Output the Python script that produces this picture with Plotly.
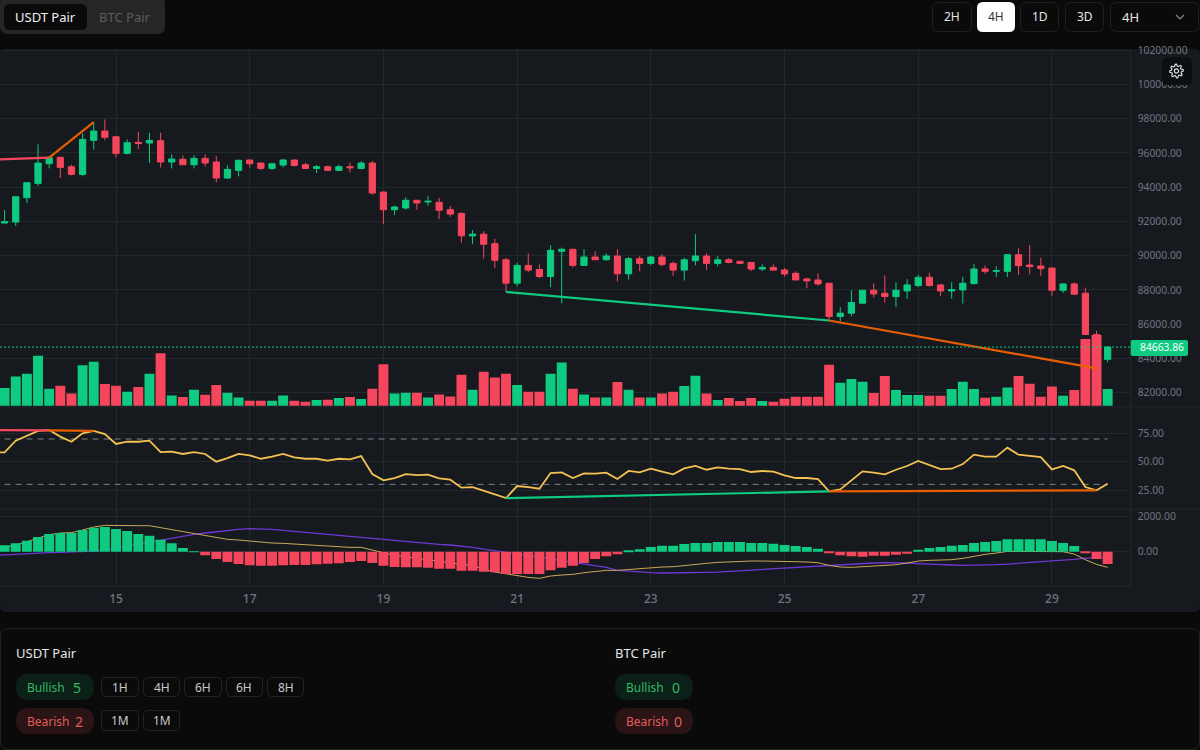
import math
import pandas as pd
import plotly.graph_objects as go

# ---- data: 4H bars, first bar is off-screen at the left edge ----
opens = [91900,91906,91964,93386,94223,95371,95742,95196,94748,96734,97280,
 96949,95975,96618,96579,96715,95469,95625,95313,95683,95469,94534,94982,95586,95410,95099,95294,95586,95313,95099,95196,94982,95196,95099,95410,93717,92685,
 92785,93236,93138,93118,92687,92471,91158,91256,90707,89766,88394,89433,89198,88786,90256,90374,89433,89923,89766,89982,88943,89825,89551,89923,89551,89159,89707,89982,89551,89766,89668,89610,89218,89316,
 89166,88972,88642,88584,88390,86450,86644,87226,87982,87808,87614,87944,88254,88739,88293,87944,88002,88370,89224,89088,89088,90058,89457,89399,89282,87982,88351,87808,85400,83947]
highs = [91990,92665,93444,94262,96501,95722,95780,95313,97124,97805,97961,
 97007,96793,97241,97182,97182,95917,95858,95858,95917,95800,95274,95625,95625,95430,95400,95664,95625,95430,95294,95255,95313,95430,95527,95527,93745,92922,
 93412,93260,93471,93373,92902,92530,91491,91432,90982,89864,89590,90139,89492,90609,90472,90400,90374,90256,90139,90374,89923,89982,89982,90100,89668,89884,91256,90139,89982,89864,89707,89630,89492,89492,
 89282,89088,88720,88972,88400,86993,87982,88000,88390,88855,88448,88623,88894,89011,88330,88448,88778,89515,89437,89379,90090,90427,90621,89884,89300,88390,88448,88138,85616,84704]
lows = [91880,91900,91730,93074,94067,95099,94534,94690,94632,96189,96734,
 95742,95917,96228,95410,95157,95099,95294,95099,95196,94281,94495,94632,95138,95002,95002,95157,95196,95060,94826,94950,94950,94865,95040,93561,91847,92373,
 92687,92687,92922,92138,92275,90766,90668,89825,89276,87885,88218,89041,88688,88159,87218,89316,89433,89746,89707,88492,88610,89100,89433,89374,88825,88550,89433,89159,89374,89551,89530,89100,89100,89140,
 88778,88565,88099,88254,86200,86159,86450,87200,87556,87265,86993,87478,88157,88196,87653,87478,87206,88312,88933,88758,88758,88875,88914,88817,87653,87827,87711,85387,83424,83773]
closes = [91906,91984,93444,94262,95410,95722,95157,94748,96793,97280,96910,
 95975,96598,96559,96734,95469,95644,95313,95683,95410,94534,95041,95566,95371,95099,95371,95586,95274,95099,95196,94982,95196,95138,95410,93658,92685,92844,
 93236,93079,93177,92648,92432,91158,91256,90668,89727,88394,89433,89159,88786,90315,90374,89433,89923,89766,89982,88943,89825,89551,89923,89492,89159,89766,89982,89551,89766,89610,89551,89218,89316,89159,
 88933,88584,88526,88351,86450,86644,87265,87982,87769,87614,87982,88293,88739,88254,87944,88021,88390,89224,89088,89127,90058,89418,89360,89243,87982,88351,87750,85400,83947,84663.86]
volumes = [500,530,880,960,1500,510,600,370,1220,1320,650,
 600,420,560,960,1580,310,260,480,330,620,390,250,150,150,150,310,150,120,170,180,230,260,200,510,1250,370,
 390,390,250,340,280,930,480,1020,850,960,620,420,420,960,1300,510,340,250,250,710,480,250,250,370,420,590,900,370,170,230,140,230,140,120,
 210,270,270,270,1230,690,800,720,380,890,470,320,320,300,300,500,720,500,240,270,550,890,660,270,580,300,470,2010,2130,500]
rsi = [58.2,58.2,68.5,72.6,77.1,77.9,72.1,67.6,75.0,77.1,74.4,
 65.6,67.6,67.6,68.5,58.5,58.8,56.8,58.5,56.8,50.0,53.2,56.8,55.6,52.6,54.4,56.8,53.8,52.6,52.6,50.9,52.6,52.1,55.0,39.1,33.5,35.6,
 39.1,38.2,38.5,35.3,34.1,27.1,27.6,24.1,21.2,17.9,28.5,27.6,26.2,40.0,40.6,35.6,39.7,39.4,40.3,34.7,41.8,40.6,43.8,41.2,38.8,44.1,46.2,42.9,45.0,43.8,43.5,40.9,41.8,41.2,
 37.9,35.6,35.6,34.7,23.8,25.6,33.2,41.5,40.3,38.8,42.9,46.2,50.6,46.8,43.5,43.8,47.9,56.2,54.4,54.4,62.4,56.2,55.3,54.1,43.2,46.2,42.4,27.6,24.7,30.6]
macd_hist = [300,358,471,622,829,998,1055,1055,1224,1356,1394,
 1280,1168,998,904,678,471,207,19,-207,-415,-584,-697,-772,-791,-791,-772,-753,-753,-716,-678,-659,-584,-527,-640,-791,-866,
 -885,-885,-904,-961,-961,-1074,-1074,-1130,-1168,-1262,-1262,-1262,-1262,-1055,-904,-791,-640,-415,-264,-151,38,132,264,339,339,433,490,490,546,546,546,490,490,452,
 377,320,264,170,-57,-207,-264,-283,-226,-226,-170,-113,113,207,264,339,377,490,546,603,697,697,697,697,603,490,320,-94,-415,-697]
macd_dif = [94,226,377,565,753,961,1055,1074,1224,1394,1488,
 1469,1469,1469,1469,1356,1262,1149,1036,942,791,697,659,603,527,490,471,433,396,339,302,264,245,245,94,-57,-207,
 -283,-377,-471,-565,-640,-716,-772,-998,-1149,-1262,-1375,-1450,-1507,-1375,-1318,-1281,-1187,-1111,-1055,-1055,-998,-942,-904,-866,-848,-772,-697,-659,-603,-565,-546,-527,-527,-527,
 -546,-565,-584,-622,-772,-866,-885,-848,-810,-791,-735,-640,-527,-490,-471,-452,-377,-245,-151,-76,19,19,19,19,19,0,-132,-452,-716,-885]
macd_dea = [-207,-170,-151,-132,-94,-57,-38,-19,0,38,94,
 207,320,433,546,659,772,885,979,1055,1130,1205,1262,1300,1300,1262,1205,1149,1092,1017,942,885,829,772,716,659,603,
 546,509,452,415,377,320,245,151,57,-38,-132,-226,-302,-396,-471,-565,-659,-772,-885,-1055,-1111,-1168,-1187,-1205,-1205,-1205,-1187,-1168,-1149,-1111,-1092,-1055,-1017,-979,
 -923,-866,-829,-791,-753,-716,-678,-659,-640,-622,-622,-640,-678,-716,-735,-753,-772,-772,-753,-735,-697,-659,-622,-565,-527,-490,-433,-358,-320,-320]
rsi_level_high = 70
rsi_level_low = 30

# bars are 4 hours apart
times = pd.date_range("2025-01-13 04:00", periods=len(closes), freq="4h")
day_ticks = ["2025-01-15","2025-01-17","2025-01-19","2025-01-21","2025-01-23","2025-01-25","2025-01-27","2025-01-29"]
day_labels = ["15","17","19","21","23","25","27","29"]

# divergence segments: (bar position, value)
price_red_x = ["2025-01-12 16:00", 5]
price_red_y = [95546, 95722]
price_orange1_b = [5, 9]
price_orange1_y = [95722, 97805]
price_green_b = [46, 75]
price_green_y = [87885, 86217]
price_orange2_b = [75, 99]
price_orange2_y = [86217, 83424]
rsi_red_y = [77.9, 77.7]
rsi_orange1_b = [5, 9]
rsi_orange1_y = [77.7, 77.1]
rsi_green_b = [46, 75]
rsi_green_y = [17.9, 23.8]
rsi_orange2_b = [75, 99]
rsi_orange2_y = [23.8, 24.7]

GREEN = "#0ecb81"
RED = "#f6465d"
ORANGE = "#e85d04"
BG = "#0a0a0a"
PANEL = "#161a1e"
GRID = "#23272e"
AXTXT = "#6f7580"
FONT = "Noto Sans"

W, H = 1200.0, 750.0
def X(p): return p / W
def Y(p): return 1 - p / H

def rr(x0, y0, x1, y1, r):
    return (f"M{X(x0+r)},{Y(y0)} L{X(x1-r)},{Y(y0)} Q{X(x1)},{Y(y0)} {X(x1)},{Y(y0+r)} "
            f"L{X(x1)},{Y(y1-r)} Q{X(x1)},{Y(y1)} {X(x1-r)},{Y(y1)} L{X(x0+r)},{Y(y1)} "
            f"Q{X(x0)},{Y(y1)} {X(x0)},{Y(y1-r)} L{X(x0)},{Y(y0+r)} Q{X(x0)},{Y(y0)} {X(x0+r)},{Y(y0)} Z")

shapes, annos = [], []
def box(x0, y0, x1, y1, r, fill, line=None, layer="above", lw=1):
    shapes.append(dict(type="path", path=rr(x0, y0, x1, y1, r), xref="paper", yref="paper", layer=layer,
                       fillcolor=fill, line=dict(color=line or "rgba(0,0,0,0)", width=lw if line else 0)))
def seg(x0, y0, x1, y1, color=GRID, layer="below"):
    shapes.append(dict(type="line", x0=X(x0), x1=X(x1), y0=Y(y0), y1=Y(y1), xref="paper", yref="paper",
                       layer=layer, line=dict(color=color, width=1)))
def txt(x, y, s, size=12, color="#e5e5e5", anchor="center", weight=None):
    annos.append(dict(x=X(x), y=Y(y), xref="paper", yref="paper", text=s, showarrow=False, xanchor=anchor,
                      yanchor="middle", font=dict(family=FONT, size=size, color=color, weight=weight), borderpad=0, borderwidth=0))

# panels
box(0, 49, 1200, 612, 6, PANEL, layer="below")
box(0.5, 628.5, 1199.5, 749.5, 8, "#0a0a0a", "#232323", layer="below")
seg(0, 406.7, 1200, 406.7); seg(0, 509.3, 1200, 509.3); seg(1130.7, 49, 1130.7, 586); seg(0, 586, 1130.7, 586)

# header
box(0, -4, 165, 34, 8, "#262626", layer="below")
box(4, 4, 87, 30, 6, "#0a0a0a", layer="below")
txt(45.5, 17, "USDT Pair", 13, "#f0f0f0")
txt(124.5, 17, "BTC Pair", 13, "#5c5c5c")
for x0, x1, s in [(932, 972, "2H"), (1020, 1059, "1D"), (1065, 1104, "3D")]:
    box(x0 + .5, 2.5, x1 - .5, 31.5, 6, "#0a0a0a", "#1f1f1f", layer="below")
    txt((x0 + x1) / 2, 17, s, 12, "#e5e5e5")
box(977, 2, 1015, 32, 6, "#ffffff", layer="below")
txt(996, 17, "4H", 12, "#333333")
box(1110.5, 2.5, 1198.5, 31.5, 6, "#0a0a0a", "#1f1f1f", layer="below")
txt(1130, 17, "4H", 13, "#e5e5e5")
shapes.append(dict(type="path", xref="paper", yref="paper", layer="above", line=dict(color="#8a8a8a", width=1.2),
                   path=f"M{X(1176)},{Y(15)} L{X(1180)},{Y(19)} L{X(1184)},{Y(15)}"))

# gear button
box(1162, 57, 1192, 85, 6, "#0c0f12")
cx, cy = 1176.5, 71
pts = []
N = 8
for i in range(N * 4):
    a = 2 * math.pi * i / (N * 4) - math.pi / 8 / 2
    r = 6.8 if i % 4 in (0, 1) else 4.9
    pts.append(f"{X(cx + r * math.cos(a))},{Y(cy + r * math.sin(a))}")
shapes.append(dict(type="path", xref="paper", yref="paper", layer="above", fillcolor="rgba(0,0,0,0)",
                   line=dict(color="#e6e6e6", width=1.1), path="M" + " L".join(pts) + " Z"))
shapes.append(dict(type="circle", xref="paper", yref="paper", layer="above", line=dict(color="#e6e6e6", width=1.1),
                   x0=X(cx - 2.1), x1=X(cx + 2.1), y0=Y(cy + 2.1), y1=Y(cy - 2.1)))

# footer
txt(16, 653, "USDT Pair", 13, "#e5e5e5", "left")
txt(615, 653, "BTC Pair", 13, "#e5e5e5", "left")
for x0, by_n, be_n in [(16, "5", "2"), (615, "0", "0")]:
    box(x0, 674, x0 + 78, 700, 13, "#0b2016", layer="below")
    txt(x0 + 11, 687, "Bullish", 12, "#34b864", "left")
    txt(x0 + 57, 687, by_n, 14, "#34b864", "left")
    box(x0, 708, x0 + 78, 734, 13, "#2a1416", layer="below")
    txt(x0 + 11, 721, "Bearish", 12, "#e25c5c", "left")
    txt(x0 + 59, 721, be_n, 14, "#e25c5c", "left")
for x0, x1, y0, y1, s in [(101, 139, 677, 697, "1H"), (143, 180, 677, 697, "4H"), (184, 222, 677, 697, "6H"),
                          (226, 263, 677, 697, "6H"), (267, 304, 677, 697, "8H"),
                          (101, 139, 710, 731, "1M"), (143, 180, 710, 731, "1M")]:
    box(x0 + .5, y0 + .5, x1 - .5, y1 - .5, 4, "#0a0a0a", "#222222", layer="below")
    txt((x0 + x1) / 2, (y0 + y1) / 2, s, 12, "#c8c8c8")

# price tag + last price line
last = closes[-1]
shapes.append(dict(type="line", xref="paper", yref="y2", x0=0, x1=X(1130.7), y0=last, y1=last, layer="above",
                   line=dict(color=GREEN, width=1, dash="2px,2px")))
box(1130.7, 340, 1188, 356, 2, GREEN)
annos.append(dict(x=X(1161.5), y=last, xref="paper", yref="y2", text=f"{last:.2f}", showarrow=False, xanchor="center",
                  font=dict(family=FONT, size=10.3, color="#ffffff")))

fig = go.Figure()
t = lambda b: times[b]
hist_colors = [GREEN if v >= 0 else RED for v in macd_hist]
vol_colors = [GREEN if c >= o else RED for o, c in zip(opens, closes)]
bar_w = 4 * 3600 * 1000 * 0.89

fig.add_bar(x=times, y=volumes, marker=dict(color=vol_colors, line=dict(width=0)), width=bar_w, xaxis="x", yaxis="y")
fig.add_candlestick(x=times, open=opens, high=highs, low=lows, close=closes, xaxis="x", yaxis="y2", whiskerwidth=0,
                    increasing=dict(line=dict(color=GREEN, width=1), fillcolor=GREEN),
                    decreasing=dict(line=dict(color=RED, width=1), fillcolor=RED))
def ln(x, y, color, axis, width=2.2, dash=None):
    fig.add_scatter(x=x, y=y, mode="lines", xaxis="x", yaxis=axis, line=dict(color=color, width=width, dash=dash))
ln([price_red_x[0], t(price_red_x[1])], price_red_y, RED, "y2")
ln([t(b) for b in price_orange1_b], price_orange1_y, ORANGE, "y2")
ln([t(b) for b in price_green_b], price_green_y, GREEN, "y2")
ln([t(b) for b in price_orange2_b], price_orange2_y, ORANGE, "y2")

ln(times[1:], [rsi_level_high] * (len(times) - 1), "#7b8088", "y3", 1, "6px,5px")
ln(times[1:], [rsi_level_low] * (len(times) - 1), "#7b8088", "y3", 1, "6px,5px")
ln(times, rsi, "#f4c152", "y3", 1.8)
ln([price_red_x[0], t(price_red_x[1])], rsi_red_y, RED, "y3")
ln([t(b) for b in rsi_orange1_b], rsi_orange1_y, ORANGE, "y3")
ln([t(b) for b in rsi_green_b], rsi_green_y, GREEN, "y3")
ln([t(b) for b in rsi_orange2_b], rsi_orange2_y, ORANGE, "y3")

ln(times, macd_dea, "#6f38d6", "y4", 1.3)
ln(times, macd_dif, "#c9a85a", "y4", 1)
fig.add_bar(x=times, y=macd_hist, marker=dict(color=hist_colors, line=dict(width=0)), width=bar_w, xaxis="x", yaxis="y5")

axis_font = dict(family=FONT, size=10.3, color=AXTXT)
def right_axis(**kw):
    d = dict(side="right", anchor="x", showgrid=True, gridcolor=GRID, gridwidth=1, zeroline=False, showline=False,
             ticks="", ticklabelstandoff=6, tickfont=axis_font, tickformat=".2f", fixedrange=True)
    d.update(kw)
    return d

main_dom = [Y(406.7), Y(49)]
macd_range = [-1938, 2395]
fig.update_layout(
    width=1200, height=750, margin=dict(l=0, r=0, t=0, b=0, pad=0, autoexpand=False), autosize=False,
    paper_bgcolor=BG, plot_bgcolor="rgba(0,0,0,0)", showlegend=False, hovermode=False, boxgap=0.2,
    font=dict(family=FONT), shapes=shapes, annotations=annos, dragmode=False,
    xaxis=dict(type="date", domain=[0, 1130.7 / 1200], anchor="y4",
               range=[pd.Timestamp("2025-01-13 06:21"), pd.Timestamp("2025-01-30 04:16")],
               tickmode="array", tickvals=day_ticks, ticktext=day_labels, showgrid=True, gridcolor=GRID, gridwidth=1,
               zeroline=False, showline=False, ticks="", ticklabelstandoff=4,
               tickfont=dict(family=FONT, size=12, color=AXTXT, weight=500), rangeslider=dict(visible=False), fixedrange=True),
    yaxis=dict(domain=main_dom, range=[-30, 10730], visible=False, fixedrange=True, anchor="x"),
    yaxis2=right_axis(domain=main_dom, overlaying="y", range=[81182.5, 102070], tick0=0, dtick=2000),
    yaxis3=right_axis(domain=[Y(509.3), Y(406.7)], range=[8, 98.5], tickmode="array", tickvals=[25, 50, 75]),
    yaxis4=right_axis(domain=[Y(586), Y(509.3)], range=macd_range, tickmode="array", tickvals=[0, 2000]),
    yaxis5=dict(overlaying="y4", range=macd_range, visible=False, fixedrange=True, anchor="x"),
)
fig.write_html("out.html", config={"displayModeBar": False},
               post_script="document.body.style.margin='0';document.body.style.overflow='hidden';")
